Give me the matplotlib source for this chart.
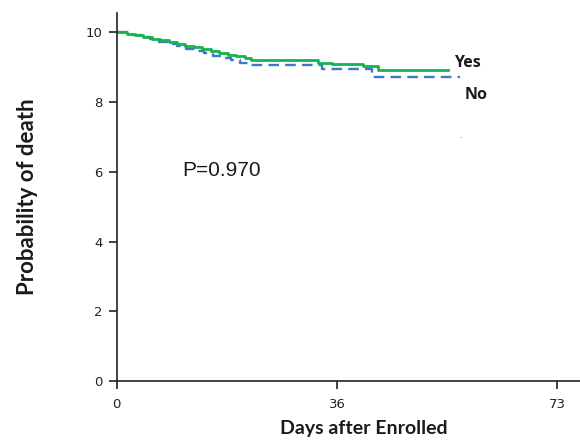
import matplotlib
matplotlib.use("Agg")
import matplotlib.pyplot as plt

# Data
yes_t = [0, 1.7, 3.0, 4.4, 5.8, 7.2, 8.6, 10.0, 11.4, 12.8, 14.2, 15.6, 17.0, 18.4, 19.8, 21.2, 22.3, 33.3, 35.7, 40.8, 43.3, 54.9]
yes_v = [10.0, 9.96, 9.91, 9.87, 9.82, 9.77, 9.72, 9.67, 9.62, 9.57, 9.52, 9.46, 9.41, 9.36, 9.31, 9.25, 9.20, 9.13, 9.09, 9.03, 8.91, 8.91]
no_t = [0, 2.5, 4.0, 5.5, 7.0, 8.5, 10.0, 11.5, 13.0, 14.5, 16.0, 17.5, 19.0, 20.5, 21.8, 34.0, 42.3, 56.9]
no_v = [10.0, 9.93, 9.86, 9.80, 9.73, 9.66, 9.60, 9.53, 9.46, 9.40, 9.33, 9.26, 9.20, 9.13, 9.05, 8.96, 8.72, 8.72]
x_ticks = [0, 36.5, 73]
x_tick_labels = ["0", "36", "73"]
y_ticks = [0, 2, 4, 6, 8, 10]
y_tick_labels = ["0", "2", "4", "6", "8", "10"]

fig = plt.figure(figsize=(5.8, 4.4), dpi=100)
ax = fig.add_axes([0.2012, 0.1341, 0.799, 0.836])

ax.step(no_t, no_v, where="post", color="#3f78c4", lw=1.7, dashes=[4.5, 2.6])
ax.step(yes_t, yes_v, where="post", color="#15b451", lw=2.0)

ax.set_xlim(0, 76.8)
ax.set_ylim(0, 10.55)
ax.set_xticks(x_ticks)
ax.set_xticklabels(x_tick_labels)
ax.set_yticks(y_ticks)
ax.set_yticklabels(y_tick_labels)

for s in ["top", "right"]:
    ax.spines[s].set_visible(False)
for s in ["left", "bottom"]:
    ax.spines[s].set_color("#222222")
    ax.spines[s].set_linewidth(1.2)
ax.tick_params(direction="out", length=6, width=1.2, color="#222222",
               labelsize=9.5, labelcolor="#222222", pad=4)
ax.tick_params(axis="x", pad=6)

ax.set_ylabel("Probability of death", fontsize=16, fontweight="bold",
              family="Lato", color="#1a1a1a")
ax.yaxis.set_label_coords(-0.170, 0.5)
ax.set_xlabel("Days after Enrolled", fontsize=14, fontweight="bold",
              family="Lato", color="#1a1a1a")
ax.xaxis.set_label_coords(0.533, -0.105)

ax.text(17.4, 6.05, "P=0.970", fontsize=15, family="Liberation Sans",
        ha="center", va="center", color="#1a1a1a")
ax.text(55.9, 9.12, "Yes", fontsize=11.5, fontweight="bold", family="Open Sans",
        ha="left", va="center", color="#1a1a1a")
ax.text(57.6, 8.2, "No", fontsize=11.5, fontweight="bold", family="Open Sans",
        ha="left", va="center", color="#1a1a1a")
ax.text(56.95, 7.05, ".", fontsize=6, ha="center", va="center", color="#333333")

fig.savefig("out.png", dpi=100)
